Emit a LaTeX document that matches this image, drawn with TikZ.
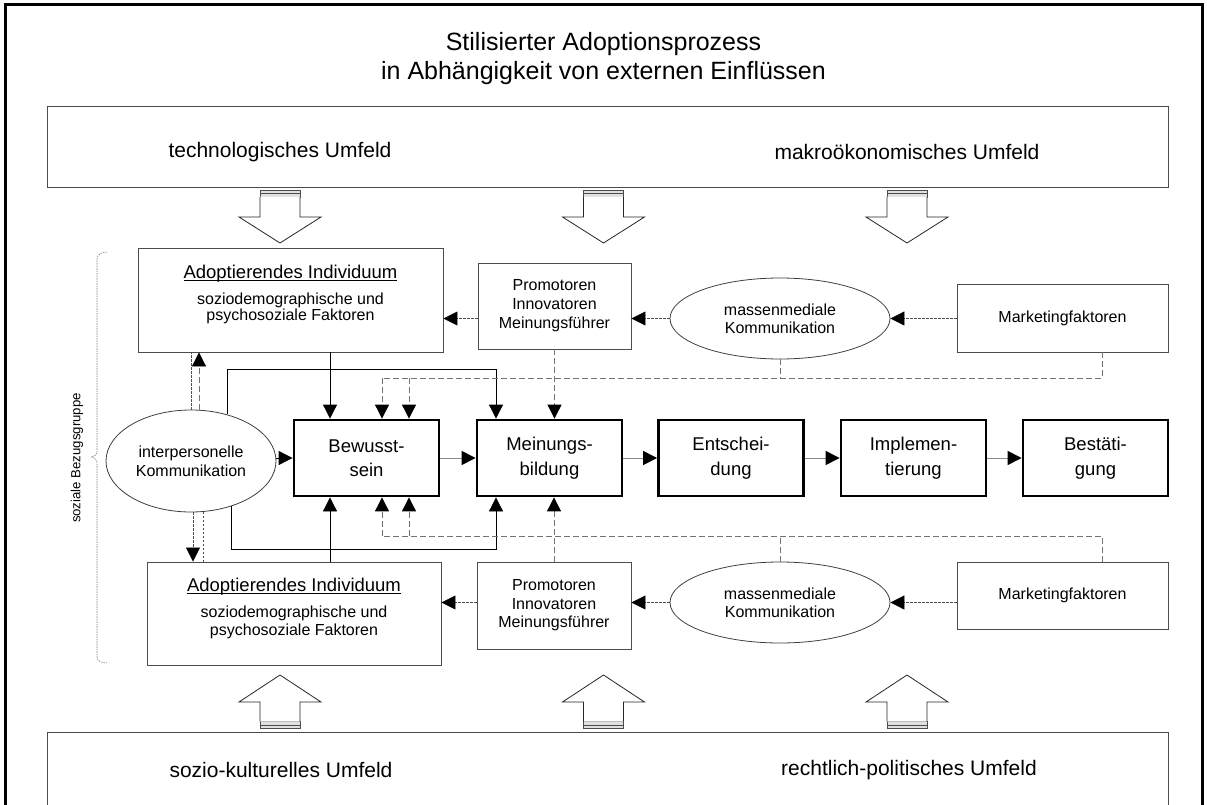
\documentclass[tikz,border=0pt]{standalone}
\usepackage{fontspec}
\setmainfont{Liberation Sans}
\usetikzlibrary{arrows.meta,shapes.geometric,calc}

\newcommand\fsz[2]{\fontsize{#1pt}{#2pt}\selectfont}
% heavier underline, close to the baseline
\newcommand\thickul[1]{\setbox0\hbox{#1}\rlap{\rule[-2.6pt]{\wd0}{1.4pt}}\box0}

% hollow block arrows with a striped tail
\newcommand\DownBlock[1]{%
  \draw[black!70, fill=black!12, line width=0.6pt] ({#1-20},190.5) rectangle ({#1+20},197);
  \draw[black!70, line width=0.6pt] ({#1-20},193.7) -- ({#1+20},193.7);
  \draw[black!85, fill=white, line width=0.8pt] ({#1-20},197) -- ({#1-20},217) -- ({#1-41},217)
     -- (#1,243) -- ({#1+41},217) -- ({#1+20},217) -- ({#1+20},197);
}
\newcommand\UpBlock[1]{%
  \draw[black!70, fill=black!12, line width=0.6pt] ({#1-20},721.5) rectangle ({#1+20},728.5);
  \draw[black!70, line width=0.6pt] ({#1-20},725) -- ({#1+20},725);
  \draw[black!85, fill=white, line width=0.8pt] ({#1-20},721.5) -- ({#1-20},702) -- ({#1-41},702)
     -- (#1,675) -- ({#1+41},702) -- ({#1+20},702) -- ({#1+20},721.5);
}

\begin{document}
\begin{tikzpicture}[x=1pt,y=-1pt,
  envbox/.style={draw=black!70, line width=0.9pt, fill=white, inner sep=0pt},
  envtext/.style={font=\fsz{21}{25}},
  infobox/.style={draw=black!70, line width=0.9pt, fill=white, inner sep=0pt, align=center},
  commell/.style={ellipse, draw=black!75, line width=0.8pt, fill=white, inner sep=0pt, align=center},
  procbox/.style={draw=black, line width=2.8pt, fill=white, inner sep=0pt, align=center,
                  minimum width=145, minimum height=76, font=\fsz{18.5}{24.5}},
  arr/.style={-{Triangle[length=14pt,width=14pt,black]}},
  solidc/.style={draw=black, line width=0.8pt},
  procc/.style={draw=black!45, line width=1pt},
  dotc/.style={draw=black!70, line width=0.8pt, dash pattern=on 2.5pt off 1.5pt},
  dashc/.style={draw=black!55, line width=0.9pt, dash pattern=on 6pt off 3pt},
  bracket/.style={draw=black!50, line width=0.6pt, dash pattern=on 1.5pt off 1pt}]

\useasboundingbox (0,0) rectangle (1207,805);
\clip (0,0) rectangle (1207,805);
\fill[white] (0,0) rectangle (1207,805);
\draw[line width=3pt] (5,5) rectangle (1202,840);

% title
\node[font=\fsz{25}{29}, align=center] (title) at (603.5,59)
  {Stilisierter Adoptionsprozess\\in Abhängigkeit von externen Einflüssen};

% environment boxes
\node[envbox, minimum width=1121, minimum height=81] (envtop) at (607.5,146.5) {};
\node[envtext] (tech) at (280,152) {technologisches Umfeld};
\node[envtext] (makro) at (907,152) {makroökonomisches Umfeld};
\node[envbox, minimum width=1121, minimum height=128] (envbot) at (607.5,796) {};
\node[envtext] (sozio) at (281,770) {sozio-kulturelles Umfeld};
\node[envtext] (recht) at (909,770) {rechtlich-politisches Umfeld};

\foreach \cx in {280,603.5,907} {\DownBlock{\cx}}
\foreach \cx in {280,603.5,907} {\UpBlock{\cx}}

% social reference group bracket
\draw[bracket] (107,252) to[out=180,in=90] (97,259) -- (97,451)
  to[out=-90,in=0] (91,457) to[out=0,in=90] (97,463) -- (97,657) to[out=-90,in=180] (107,663);
\node[rotate=90, font=\fsz{13.2}{15}] (bezug) at (77,458) {soziale Bezugsgruppe};

% upper row
\node[infobox, minimum width=305, minimum height=104] (adopt1) at (290.5,300) {};
\node[font=\fsz{18.5}{22}] (adopt1h) at ($(adopt1.north)+(0,26)$) {\thickul{Adoptierendes Individuum}};
\node[font=\fsz{16}{16}, align=center] (adopt1t) at ($(adopt1.north)+(0,61)$) {soziodemographische und\\psychosoziale Faktoren};
\node[infobox, minimum width=153, minimum height=86, font=\fsz{16}{19}] (prom1) at (554.5,306)
  {Promotoren\\Innovatoren\\Meinungsführer};
\node[commell, minimum width=220, minimum height=81, font=\fsz{16}{18}] (mm1) at (780,318.5)
  {massenmediale\\Kommunikation};
\node[infobox, minimum width=211, minimum height=68, font=\fsz{16}{19}] (mkt1) at (1062.5,318)
  {Marketingfaktoren};

% lower row
\node[infobox, minimum width=294, minimum height=103] (adopt2) at (294,613.5) {};
\node[font=\fsz{18.5}{22}] (adopt2h) at ($(adopt2.north)+(0,25)$) {\thickul{Adoptierendes Individuum}};
\node[font=\fsz{16}{18}, align=center] (adopt2t) at ($(adopt2.north)+(0,61)$) {soziodemographische und\\psychosoziale Faktoren};
\node[infobox, minimum width=154, minimum height=87, font=\fsz{16}{18.5}] (prom2) at (554,605.5)
  {Promotoren\\Innovatoren\\Meinungsführer};
\node[commell, minimum width=220, minimum height=81, font=\fsz{16}{18}] (mm2) at (780,602.5)
  {massenmediale\\Kommunikation};
\node[infobox, minimum width=211, minimum height=67, font=\fsz{16}{19}] (mkt2) at (1062.5,595.5)
  {Marketingfaktoren};

% interpersonal communication
\node[commell, minimum width=170, minimum height=102, font=\fsz{16}{19}] (ip) at (191,461)
  {interpersonelle\\Kommunikation};

% adoption stages
\node[procbox] (p1) at (366.5,458) {Bewusst-\\sein};
\node[procbox] (p2) at (549.5,458) {Meinungs-\\bildung};
\node[procbox] (p3) at (731,458) {Entschei-\\dung};
\node[procbox] (p4) at (913.5,458) {Implemen-\\tierung};
\node[procbox] (p5) at (1095.5,458) {Bestäti-\\gung};

\draw[procc, arr] (p1.east) -- (p2.west);
\draw[procc, arr] (p2.east) -- (p3.west);
\draw[procc, arr] (p3.east) -- (p4.west);
\draw[procc, arr] (p4.east) -- (p5.west);

% horizontal influence chains
\draw[dotc, arr] (mkt1.west |- mm1.east) -- (mm1.east);
\draw[dotc, arr] (mm1.west) -- (mm1.west -| prom1.east);
\draw[dotc, arr] (prom1.west |- mm1.west) -- (adopt1.east |- mm1.west);
\draw[dotc, arr] (mkt2.west |- mm2.east) -- (mm2.east);
\draw[dotc, arr] (mm2.west) -- (mm2.west -| prom2.east);
\draw[dotc, arr] (prom2.west |- mm2.west) -- (adopt2.east |- mm2.west);

% interpersonal communication into the stages
\draw[solidc, arr] (p1.west -| ip.east) -- (p1.west);
\coordinate (sT) at (496,369);
\coordinate (sB) at (496,549);
\draw[solidc, arr] (ip.52) |- (sT) -- (sT |- p2.north);
\draw[solidc, arr] (ip.-48) |- (sB) -- (sB |- p2.south);

% individual into awareness
\coordinate (p1a) at ($(p1.north)+(-36.5,0)$);
\coordinate (p1b) at ($(p1.south)+(-36.5,0)$);
\draw[solidc, arr] (p1a |- adopt1.south) -- (p1a);
\draw[solidc, arr] (p1b |- adopt2.north) -- (p1b);

% mass media and marketing, upper feed
\coordinate (dT) at (382,378);
\coordinate (dT2) at (409,378);
\draw[dashc] ($(mkt1.south)+(39.5,0)$) |- (dT);
\draw[dashc] (mm1.south) -- (mm1.south |- dT);
\draw[dashc, arr] (dT) -- (dT |- p1.north);
\draw[dashc, arr] (dT2) -- (dT2 |- p1.north);
\draw[dashc, arr] (prom1.south) -- (prom1.south |- p2.north);

% mass media and marketing, lower feed
\coordinate (dB) at (382,536);
\coordinate (dB2) at (409,536);
\draw[dashc] ($(mkt2.north)+(39.5,0)$) |- (dB);
\draw[dashc] (mm2.north) -- (mm2.north |- dB);
\draw[dashc, arr] (dB) -- (dB |- p1.south);
\draw[dashc, arr] (dB2) -- (dB2 |- p1.south);
\draw[dashc, arr] (prom2.north) -- (prom2.north |- p2.south);

% interpersonal communication and the individuals
\coordinate (ipu) at ($(ip.north)+(8,0.5)$);
\draw[dotc] (ip.north) -- (ip.north |- adopt1.south);
\draw[dashc, arr] (ipu) -- (ipu |- adopt1.south);
\coordinate (ipd1) at ($(ip.south)+(2,0)$);
\coordinate (ipd2) at ($(ip.south)+(12,-0.5)$);
\draw[dotc, arr] (ipd1) -- (ipd1 |- adopt2.north);
\draw[dotc] (ipd2) -- (ipd2 |- adopt2.north);

\end{tikzpicture}
\end{document}
